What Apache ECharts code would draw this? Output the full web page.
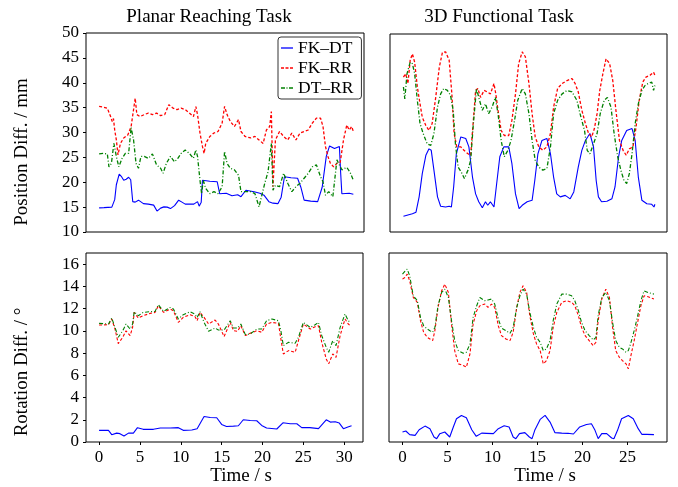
<!DOCTYPE html>
<html>
<head>
<meta charset="utf-8">
<script src="https://cdn.jsdelivr.net/npm/echarts@6/dist/echarts.min.js"></script>
<style>
  html, body { margin: 0; padding: 0; background: #fff; }
  #chart { width: 678px; height: 487px; }
</style>
</head>
<body>
<div id="chart"></div>
<script>
// tick labels
const posTicks = [10, 15, 20, 25, 30, 35, 40, 45, 50]
const rotTicks = [0, 2, 4, 6, 8, 10, 12, 14, 16]
const planarTimeTicks = [0, 5, 10, 15, 20, 25, 30]
const funcTimeTicks = [0, 5, 10, 15, 20, 25]
const seriesNames = ['FK–DT', 'FK–RR', 'DT–RR']

// Planar reaching task, position difference [time s, mm]
const planarPosFkDt = [[0,14.85],[0.6,14.9],[1.55,15],[1.9,16.5],[2.1,19.5],[2.45,21.65],[2.7,21.2],[3,20.4],[3.3,20.6],[3.6,21],[3.85,20.5],[4.1,16.1],[4.4,16],[4.8,16.4],[5.4,15.7],[6,15.6],[6.65,15.4],[7.06,14.2],[7.5,14.8],[7.9,15.05],[8.3,15],[8.7,14.7],[9.2,15.3],[9.7,16.4],[10.1,16],[10.5,15.6],[11.55,15.6],[12,16.1],[12.2,15.2],[12.45,16],[12.6,20.4],[13.5,20.2],[14.4,20.1],[14.7,17.7],[15.5,17.8],[16.2,17.3],[16.9,17.5],[17.3,17.1],[17.9,18.4],[18.9,18.1],[19.6,17.8],[20.1,17.4],[20.7,16.1],[21.2,15.8],[21.8,15.7],[22.2,17],[22.6,21.1],[23.4,20.9],[24.2,20.8],[24.6,19],[25,16.4],[25.8,16.2],[26.65,16.1],[27.2,19],[27.7,25.2],[28.1,27.3],[28.7,26.8],[29.3,27.2],[29.45,22],[29.6,17.7],[30.5,17.8],[31,17.6]]
const planarPosFkRr = [[0,35.25],[0.5,35.1],[1,34.9],[1.4,33.2],[1.6,32.2],[1.75,32.8],[1.9,30.5],[2.1,28.5],[2.3,25.5],[2.6,27.8],[3,28.9],[3.5,29.5],[3.9,31.2],[4.2,34.6],[4.4,36.9],[4.6,33.6],[5,33.2],[5.5,33.6],[6,33.9],[6.5,33.6],[7,33.9],[7.5,33.4],[8,33.6],[8.5,35.6],[9,34.9],[9.5,34.6],[10,34.9],[10.5,34.6],[11,33.9],[11.5,33.2],[11.8,35.2],[12,33.6],[12.3,29.9],[12.6,27.2],[12.8,25.8],[13,27.8],[13.5,29.2],[14,29.9],[14.5,30.2],[15,31.9],[15.3,35.25],[15.6,33.6],[16,32.2],[16.5,31.2],[17,32.6],[17.3,30.2],[17.8,29.2],[18.5,28.9],[19,29.2],[19.5,28.5],[20,27.8],[20.4,30.5],[20.8,31.2],[21,34.2],[21.1,27],[21.2,19.1],[21.35,24],[21.5,28.5],[22,30.2],[22.5,29.2],[23,28.5],[23.5,29.9],[24,28.5],[24.5,29.9],[25,30.2],[25.5,30.5],[26,31.9],[26.5,32.9],[27,32.9],[27.3,31.2],[27.6,27.2],[27.9,25.2],[28.2,23.8],[28.6,23.1],[29,23.8],[29.4,24],[29.8,28.5],[30.2,31.5],[30.5,30.5],[30.8,31.2],[31,30.2]]
const planarPosDtRr = [[0,25.7],[0.5,25.8],[1,25.7],[1.2,23.1],[1.5,23.8],[1.8,27.8],[2.1,25.2],[2.4,23.1],[2.8,24.8],[3.2,25.8],[3.6,25.8],[3.9,31],[4.2,28.5],[4.5,23.8],[4.8,22.8],[5.1,25.2],[5.5,25.2],[6,24.8],[6.5,25.7],[7,23.5],[7.5,22.8],[7.8,21.8],[8.2,23.8],[8.7,25.2],[9.2,24.1],[9.6,24.8],[10,25.8],[10.5,26.5],[11,25.8],[11.5,24.8],[11.8,26.5],[12,25.2],[12.3,20.4],[12.5,17.7],[12.7,20.4],[13,18.75],[13.5,17.7],[14,18.1],[14.5,17.7],[15,19.1],[15.3,26.2],[15.6,23.8],[16,22.8],[16.5,22.5],[17,21.4],[17.3,18.1],[17.8,18.1],[18.5,18.1],[19,17.7],[19.5,15.05],[19.8,17.1],[20.2,19.8],[20.6,22.1],[21,27.8],[21.2,18.4],[21.5,19.4],[22,19.1],[22.5,21.8],[23,19.8],[23.5,18.1],[24,19.1],[24.5,19.8],[25,20.8],[25.5,21.8],[26,23.1],[26.5,23.5],[27,21.1],[27.3,20.1],[27.6,17.4],[28,18.1],[28.5,17.1],[29,24.5],[29.3,23.5],[29.6,22.5],[30.2,23],[30.6,22],[31,20.4]]

// 3D functional task, position difference [time s, mm]
const funcPosFkDt = [[0,13.2],[1,13.7],[1.4,14],[1.75,17.1],[2.1,21.8],[2.5,25.5],[2.85,26.8],[3.1,26.5],[3.4,22.5],[3.8,17.1],[4.15,15.2],[4.7,15.05],[5.1,15.2],[5.35,15.05],[5.6,19.1],[5.9,25.8],[6.4,29.2],[6.95,28.9],[7.3,27.2],[7.7,21.1],[8.05,17.7],[8.4,16.1],[8.8,14.9],[9.15,16.1],[9.4,15.4],[9.7,16.1],[10.1,15.05],[10.4,19.8],[10.75,25.2],[11.2,27.2],[11.75,27.2],[12.1,23.8],[12.5,17.7],[12.9,14.7],[13.25,15.4],[13.8,16.1],[14.35,16.4],[14.65,20.4],[15,25.8],[15.45,28.5],[16,28.9],[16.4,25.8],[16.75,21.1],[17.1,17.7],[17.5,17.1],[18.05,17.4],[18.6,16.7],[19,18.1],[19.5,23.1],[19.9,26.5],[20.3,28.5],[20.8,29.9],[21.2,27.2],[21.5,20.4],[21.75,17.1],[22.1,16.1],[22.7,16.2],[23.25,16.7],[23.6,19.1],[24,25.2],[24.35,28.5],[24.9,30.5],[25.5,30.9],[25.85,28.5],[26.2,21.1],[26.6,16.4],[27.15,15.7],[27.7,15.6],[27.95,15.05],[28.05,15.6]]
const funcPosFkRr = [[0,41.3],[0.25,42],[0.5,40],[0.75,44.7],[1,46],[1.25,44.3],[1.55,39.3],[1.85,35.9],[2.1,33.2],[2.5,31.5],[2.85,30.5],[3.2,31.9],[3.6,37.2],[4,43.3],[4.35,46.3],[4.7,46.4],[5.1,44.7],[5.4,37.9],[5.65,29.9],[5.95,27.2],[6.4,27.2],[6.75,26.5],[7.2,25.8],[7.5,25.5],[7.8,32.6],[8.05,38.6],[8.3,39],[8.6,37.2],[9,38.6],[9.35,38.3],[9.7,37.9],[10.1,40],[10.3,37.9],[10.55,34.6],[10.9,30.5],[11.25,29.5],[11.75,29.5],[12.1,32.6],[12.5,37.9],[12.85,44],[13.25,46.4],[13.6,45.4],[14,40],[14.35,33.9],[14.7,29.2],[15.1,27.2],[15.55,26.5],[16,27.2],[16.4,29.9],[16.75,35.25],[17.2,39],[17.7,40],[18.25,40.6],[18.8,41],[19.15,40],[19.5,38.3],[19.9,34.6],[20.3,31.9],[20.65,29.9],[21,29.2],[21.3,30.9],[21.6,33.9],[21.9,38.6],[22.25,42],[22.6,45],[23,44],[23.35,40.6],[23.7,34.6],[24.1,28.5],[24.5,26.5],[24.85,25.5],[25.2,26.8],[25.6,27.2],[25.95,31.2],[26.3,36.6],[26.7,40.3],[27.05,41.3],[27.5,41.65],[27.9,42.3],[28.05,41.65]]
const funcPosDtRr = [[0,39.3],[0.15,36.9],[0.4,42],[0.75,44.3],[1,44],[1.25,42],[1.55,36.6],[1.85,31.9],[2.2,29.9],[2.65,27.8],[3.05,27.5],[3.4,29.9],[3.8,35.25],[4.15,37.9],[4.5,39],[4.9,38.6],[5.25,37.6],[5.55,34.6],[5.8,27.8],[6.1,23.1],[6.45,22.1],[6.8,20.8],[7.2,22.5],[7.5,24.5],[7.8,31.9],[8.15,39],[8.4,37.2],[8.8,34.6],[9.15,35.9],[9.5,33.9],[9.9,35.25],[10.25,37.2],[10.55,33.9],[10.9,28.5],[11.25,25.2],[11.65,26.5],[12,28.5],[12.4,32.6],[12.75,36.6],[13.25,39],[13.6,37.9],[14,33.9],[14.35,28.5],[14.7,24.5],[15.1,23.1],[15.55,22.5],[16,22.8],[16.4,27.2],[16.75,33.9],[17.2,36.6],[17.7,37.9],[18.25,38.6],[18.8,38.3],[19.35,36.6],[19.7,33.9],[20.2,30.5],[20.5,26.5],[20.8,25.8],[21.2,27.8],[21.6,29.9],[21.95,33.9],[22.4,36.6],[22.75,37.2],[23.15,35.25],[23.5,29.9],[23.9,25.2],[24.25,22.5],[24.6,20.4],[24.9,19.8],[25.2,21.8],[25.5,25.8],[25.85,31.9],[26.2,35.9],[26.6,38.6],[26.95,39.6],[27.3,40],[27.7,40.3],[27.9,38.6],[28.05,39.6]]

// Planar reaching task, rotation difference [time s, deg]
const planarRotFkDt = [[0,1.05],[1.15,1.05],[1.55,0.66],[2.15,0.8],[2.55,0.75],[3.05,0.54],[3.6,0.8],[4.2,0.8],[4.7,1.29],[5.4,1.14],[6.65,1.14],[7.5,1.26],[8.7,1.26],[9.7,1.29],[10.3,1.05],[11.35,1.08],[12,1.2],[12.85,2.3],[13.6,2.21],[14.4,2.18],[15,1.58],[15.6,1.4],[16.45,1.43],[17.05,1.46],[17.65,2],[18.5,1.94],[19.3,1.91],[19.9,1.49],[20.5,1.26],[21.75,1.17],[22.5,1.73],[23.4,1.64],[24.2,1.64],[24.8,1.29],[25.8,1.29],[26.85,1.2],[27.8,2],[28.3,1.79],[28.9,1.82],[29.4,1.7],[29.9,1.2],[30.45,1.35],[30.9,1.46]]
const planarRotFkRr = [[0,10.52],[1.15,10.55],[1.55,11.06],[1.95,10.16],[2.35,8.85],[2.9,9.42],[3.3,10],[3.8,9.57],[4.1,10.3],[4.3,11.66],[4.8,11.15],[5.4,11.36],[6.25,11.57],[6.85,11.66],[7.25,12.26],[7.9,11.66],[8.7,11.96],[9.1,11.81],[9.7,10.76],[10.3,11.21],[11.15,11.45],[11.75,11.27],[12,10.91],[12.35,11.66],[12.85,11.21],[13.4,10.61],[14.2,10.97],[14.6,10.61],[15.3,9.48],[16.05,10.76],[16.45,10.01],[16.95,9.96],[17.35,10.46],[17.9,9.57],[18.5,9.78],[19.3,10.01],[19.9,9.87],[20.5,10.61],[21.15,10.76],[21.95,10.67],[22.25,9.27],[22.55,7.92],[23.2,8.22],[24,8.07],[24.4,9.12],[25,10.61],[25.85,10.16],[26.45,10.37],[26.85,10.46],[27.25,8.97],[27.8,7.47],[28.1,7.03],[28.6,7.92],[29,7.62],[29.5,9.57],[30.1,11.06],[30.5,10.61],[30.75,10.46]]
const planarRotDtRr = [[0,10.67],[1.15,10.61],[1.55,11.15],[1.95,10.31],[2.35,9.42],[2.9,10.01],[3.3,10.61],[3.8,10.16],[4.1,10.61],[4.3,11.72],[4.8,11.36],[5.4,11.66],[6.25,11.72],[6.85,11.75],[7.25,12.35],[7.9,11.75],[8.7,12.11],[9.1,11.96],[9.7,11.06],[10.3,11.45],[11.15,11.72],[11.75,11.51],[12,11.21],[12.35,11.72],[12.85,10.76],[13.4,9.96],[14.2,10.25],[14.6,10.07],[15.3,10.07],[16.05,10.91],[16.45,10.25],[16.95,10.25],[17.35,10.61],[17.9,9.66],[18.5,9.72],[19.3,10.16],[19.9,10.16],[20.5,10.91],[21.15,11.06],[21.95,10.91],[22.25,10.01],[22.55,8.67],[23.2,8.97],[24,8.88],[24.4,9.42],[25,10.76],[25.85,10.31],[26.45,10.55],[26.85,10.76],[27.25,9.57],[27.8,8.52],[28.1,8.07],[28.6,9.12],[29,8.67],[29.5,10.31],[30.1,11.51],[30.5,10.91],[30.75,10.76]]

// 3D functional task, rotation difference [time s, deg]
const funcRotFkDt = [[0,0.9],[0.37,0.99],[0.8,0.66],[1.4,0.6],[1.85,1.1],[2.5,1.43],[3.05,1.2],[3.5,0.45],[3.8,0.3],[4.15,0.75],[4.7,0.9],[5.25,0.45],[5.65,1.35],[6,2.09],[6.55,2.39],[7.1,2.18],[7.7,1.1],[8.2,0.51],[8.8,0.8],[9.35,0.78],[10.1,0.75],[10.65,1.2],[11.3,1.46],[11.85,1.35],[12.3,0.45],[12.6,0.3],[13,0.75],[13.6,0.84],[14.1,0.45],[14.4,0.3],[14.7,1.05],[15.3,2.03],[15.85,2.39],[16.4,1.79],[16.95,0.84],[17.7,0.8],[18.4,0.78],[19,0.72],[19.7,1.35],[20.45,1.58],[21,1.64],[21.4,1.05],[21.75,0.3],[22.15,0.75],[22.7,0.75],[23.25,0.36],[23.5,0.3],[23.9,1.05],[24.35,2.09],[25.1,2.39],[25.65,2.09],[26.2,1.2],[26.6,0.69],[27.15,0.69],[27.95,0.66]]
const funcRotFkRr = [[0,14.65],[0.26,14.8],[0.52,15.1],[0.8,14.5],[1.2,13],[1.65,12.56],[2,10.91],[2.35,9.87],[2.75,9.42],[3.05,9.27],[3.35,9.12],[3.6,10.01],[3.95,12.11],[4.35,13.6],[4.7,14.2],[5.1,13.45],[5.45,10.61],[5.8,8.22],[6.2,7.03],[6.75,6.88],[7.1,6.73],[7.5,7.92],[7.85,10.61],[8.25,11.81],[8.6,12.26],[9.15,12.41],[9.5,12.11],[9.9,12.41],[10.25,12.11],[10.65,10.46],[11,9.57],[11.5,9.27],[11.95,9.12],[12.3,9.87],[12.7,12.11],[13.05,13.45],[13.4,14.05],[13.8,13.45],[14.15,11.36],[14.55,9.72],[14.9,8.82],[15.3,8.22],[15.65,7.03],[16,7.32],[16.4,8.22],[16.75,10.31],[17.15,11.66],[17.7,12.56],[18.25,12.71],[18.8,12.56],[19.15,12.26],[19.55,11.36],[19.9,10.31],[20.3,9.57],[20.75,9.12],[21.2,8.67],[21.5,8.97],[21.75,10.91],[22.15,12.86],[22.6,13.75],[23,13],[23.35,10.31],[23.7,8.22],[24.1,7.62],[24.45,7.32],[24.85,7.03],[25.1,6.58],[25.35,7.62],[25.75,9.12],[26.1,10.61],[26.5,12.26],[26.85,13.15],[27.3,13.06],[27.95,12.86]]
const funcRotDtRr = [[0,15.1],[0.26,15.34],[0.52,15.55],[0.8,14.95],[1.2,13.15],[1.65,12.71],[2,11.21],[2.35,10.46],[2.75,10.16],[3.05,10.01],[3.35,9.87],[3.6,10.31],[3.95,12.26],[4.35,13.45],[4.7,13.75],[5.1,13],[5.45,10.91],[5.8,9.12],[6.2,8.22],[6.75,7.98],[7.1,8.07],[7.5,8.82],[7.85,11.21],[8.25,12.26],[8.6,13],[9.15,12.71],[9.5,12.77],[9.9,12.86],[10.25,12.41],[10.65,11.06],[11,10.25],[11.5,10.01],[11.95,9.78],[12.3,10.31],[12.7,12.11],[13.05,13.15],[13.4,13.75],[13.8,13.3],[14.15,11.66],[14.55,10.31],[14.9,9.42],[15.3,8.97],[15.65,8.22],[16,8.37],[16.4,9.12],[16.75,10.91],[17.15,12.41],[17.7,13.3],[18.25,13.3],[18.8,13.15],[19.15,12.71],[19.55,11.81],[19.9,10.76],[20.3,10.01],[20.75,9.57],[21.2,9.18],[21.5,9.42],[21.75,11.36],[22.15,13],[22.6,13.45],[23,12.71],[23.35,10.76],[23.7,9.12],[24.1,8.52],[24.45,8.37],[24.85,8.07],[25.1,8.22],[25.35,8.82],[25.75,10.01],[26.1,11.21],[26.5,12.71],[26.85,13.6],[27.3,13.45],[27.95,13.3]]

const FONT = '"Liberation Serif", "DejaVu Serif", serif'
const COLORS = ['#0000ff', '#ff0000', '#008000']
const DASHES = ['solid', [3, 2], [4, 2, 1, 2]]
// legend line samples: solid, dashed, dash-dot
const LEGEND_ICONS = [
  'path://M0,0h12v1.3h-12z',
  'path://M0,0h3v1.3h-3z M4.5,0h3v1.3h-3z M9,0h3v1.3h-3z',
  'path://M0,0h4v1.3h-4z M5.5,0h1v1.3h-1z M8,0h4v1.3h-4z',
]

const chart = echarts.init(document.getElementById('chart'), null, { renderer: 'canvas' })

const grids = [
  { left: 86, top: 33, width: 278, height: 199 },
  { left: 390, top: 34, width: 277, height: 198 },
  { left: 86, top: 253, width: 277, height: 189 },
  { left: 389, top: 253, width: 278, height: 189 },
].map(g => ({ ...g, show: true, borderColor: '#000', borderWidth: 1, backgroundColor: 'transparent' }))

function axis(i, min, max, ticks) {
  const labelled = !!ticks
  return {
    type: 'value', gridIndex: i, min, max,
    axisLine: { show: false, onZero: false },
    splitLine: { show: false },
    axisTick: { show: labelled, inside: false, length: 3, customValues: ticks || [], lineStyle: { color: '#000' } },
    axisLabel: { show: labelled, customValues: ticks || [], margin: 7, color: '#000', fontSize: 17, fontFamily: FONT },
  }
}

function panel(idx, sets) {
  return sets.map((data, k) => ({
    type: 'line', name: seriesNames[k], xAxisIndex: idx, yAxisIndex: idx,
    data, symbol: 'none', showSymbol: false, silent: true,
    color: COLORS[k],
    lineStyle: { color: COLORS[k], width: idx < 2 && k > 0 ? 1.3 : 1.1, type: DASHES[k] },
  }))
}

const text = (t, x, y, size, rot) => ({
  type: 'text', x, y, rotation: rot || 0, silent: true,
  style: { text: t, fill: '#000', font: `${size}px ${FONT}`, textAlign: 'center', textVerticalAlign: 'middle' },
})

chart.setOption({
  animation: false,
  backgroundColor: '#fff',
  grid: grids,
  xAxis: [
    axis(0, -1.6, 32.3, null),
    axis(1, -1.5, 29.4, null),
    axis(2, -1.6, 32.3, planarTimeTicks),
    axis(3, -1.5, 29.4, funcTimeTicks),
  ],
  yAxis: [
    axis(0, 10, 50, posTicks),
    axis(1, 10, 50, null),
    axis(2, 0, 17, rotTicks),
    axis(3, 0, 17, null),
  ],
  legend: {
    data: seriesNames.map((name, k) => ({ name, icon: LEGEND_ICONS[k] })),
    orient: 'vertical', left: 278, top: 37,
    padding: [1, 8, 1, 3], itemGap: 0, itemWidth: 12, itemHeight: 10,
    symbolKeepAspect: true,
    backgroundColor: '#fff', borderColor: '#333', borderWidth: 1, borderRadius: 3,
    selectedMode: false,
    textStyle: { fontFamily: FONT, fontSize: 17.5, color: '#000', lineHeight: 20 },
  },
  graphic: [
    text('Planar Reaching Task', 209, 17, 19),
    text('3D Functional Task', 499, 17, 19),
    text('Position Diff. / mm', 22, 152, 19, Math.PI / 2),
    text('Rotation Diff. / °', 22, 372, 19, Math.PI / 2),
    text('Time / s', 241, 476, 19),
    text('Time / s', 545, 476, 19),
  ],
  series: [
    ...panel(0, [planarPosFkDt, planarPosFkRr, planarPosDtRr]),
    ...panel(1, [funcPosFkDt, funcPosFkRr, funcPosDtRr]),
    ...panel(2, [planarRotFkDt, planarRotFkRr, planarRotDtRr]),
    ...panel(3, [funcRotFkDt, funcRotFkRr, funcRotDtRr]),
  ],
})
</script>
</body>
</html>
